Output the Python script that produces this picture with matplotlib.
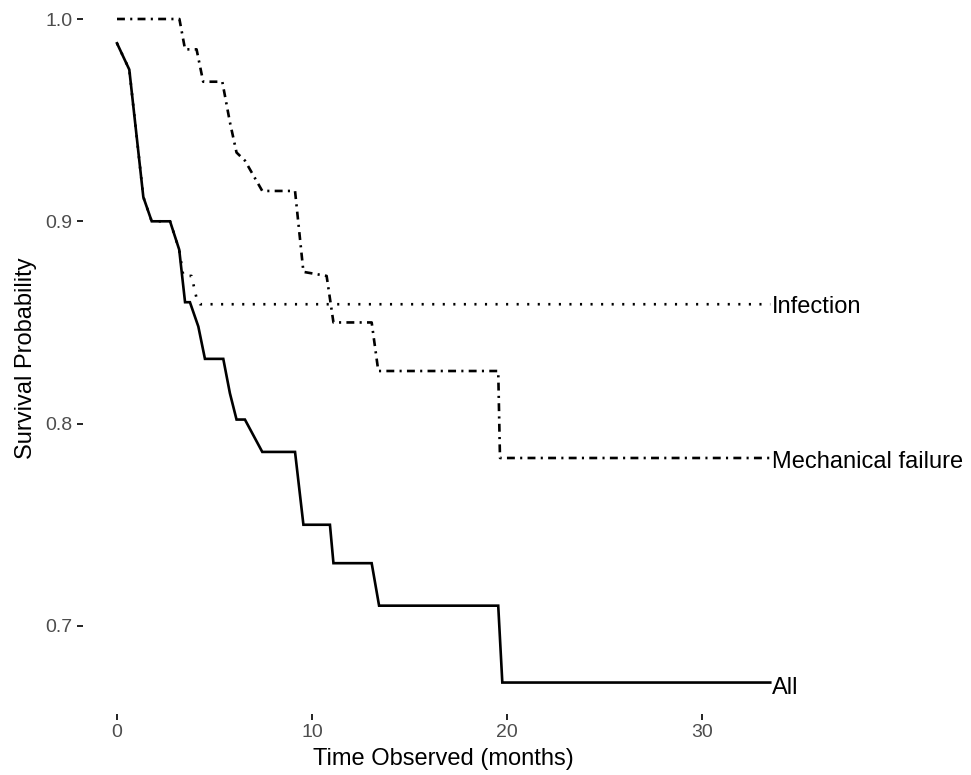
import matplotlib
matplotlib.use("Agg")
import matplotlib.pyplot as plt

plt.rcParams['font.family'] = ['Liberation Sans', 'DejaVu Sans']

# Data
all_t = [0, 0.63, 1.35, 1.78, 2.72, 3.19, 3.49, 3.74, 4.17, 4.51, 5.45, 5.79, 6.13, 6.56,
         7.45, 9.13, 9.56, 10.92, 11.1, 13.06, 13.44, 19.55, 19.76, 33.5]
all_s = [0.988, 0.975, 0.912, 0.900, 0.900, 0.886, 0.860, 0.860, 0.848, 0.832, 0.832, 0.815,
         0.802, 0.802, 0.786, 0.786, 0.750, 0.750, 0.731, 0.731, 0.710, 0.710, 0.672, 0.672]

inf_t = [0, 0.63, 1.35, 1.78, 2.72, 3.19, 3.4, 3.82, 4.08, 4.26, 33.5]
inf_s = [0.988, 0.975, 0.912, 0.900, 0.900, 0.886, 0.873, 0.873, 0.862, 0.859, 0.859]

mech_t = [0, 3.2, 3.49, 4.08, 4.42, 5.4, 5.79, 6.13, 6.56, 7.45, 9.13, 9.56, 10.75, 11.1,
          13.06, 13.4, 19.55, 19.64, 33.5]
mech_s = [1.0, 1.0, 0.985, 0.985, 0.969, 0.969, 0.949, 0.934, 0.930, 0.915, 0.915, 0.875,
          0.873, 0.850, 0.850, 0.826, 0.826, 0.783, 0.783]

labels = ["Infection", "Mechanical failure", "All"]
label_y = [0.8575, 0.781, 0.6695]

x_ticks = [0, 10, 20, 30]
y_ticks = [0.7, 0.8, 0.9, 1.0]

fig = plt.figure(figsize=(9.71, 7.75), dpi=100)
ax = fig.add_axes([83/971, (775-714)/775, (803-83)/971, (714-3)/775])

lw = 1.9
ax.plot(all_t, all_s, color='black', lw=lw, solid_joinstyle='miter')
ax.plot(inf_t, inf_s, color='black', lw=lw, dashes=(0.8, 3.2), dash_capstyle='butt')
ax.plot(mech_t, mech_s, color='black', lw=lw, dashes=(3, 2, 0.8, 2), dash_capstyle='butt')

for lab, yv in zip(labels, label_y):
    ax.text(33.6, yv, lab, fontsize=17, va='center', ha='left', color='black', clip_on=False)

ax.set_xlim((83-117)/19.5, (803-117)/19.5)
ax.set_ylim(1.0 - (714-19)/2023, 1.0 + (19-3)/2023)
ax.set_xticks(x_ticks)
ax.set_xticklabels([str(v) for v in x_ticks])
ax.set_yticks(y_ticks)
ax.set_yticklabels([f"{v:.1f}" for v in y_ticks])
for s in ax.spines.values():
    s.set_visible(False)
ax.tick_params(axis='both', length=4.5, width=1.4, color='#222222', labelcolor='#4d4d4d',
               labelsize=14, pad=3)
ax.set_xlabel("Time Observed (months)", fontsize=17, labelpad=5)
ax.set_ylabel("Survival Probability", fontsize=17, labelpad=6)

fig.savefig("out.png", dpi=100)
